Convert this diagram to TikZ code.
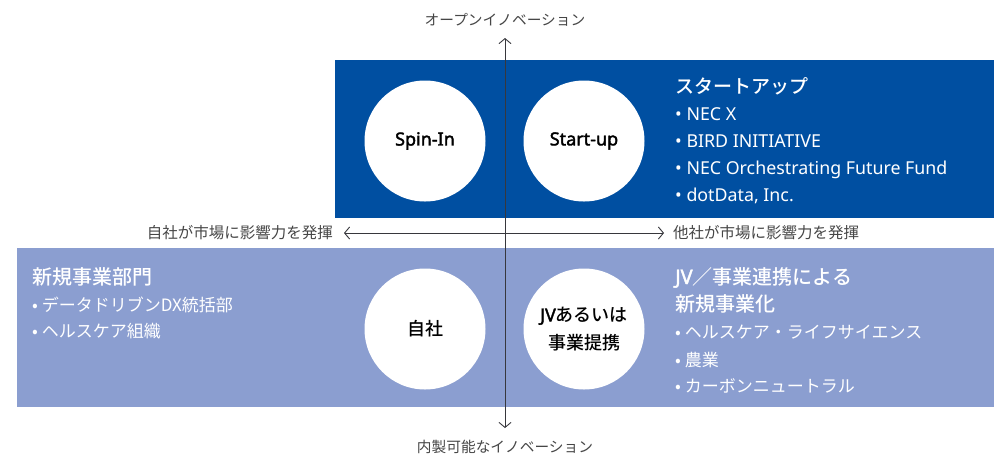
\documentclass[tikz,border=0pt]{standalone}
\usepackage{fontspec}
\setmainfont{Noto Sans}
\newfontfamily\jp{Noto Sans CJK JP}
\newfontfamily\jpm{Noto Sans CJK JP Medium}
\newfontfamily\lsm[FakeBold=2]{Noto Sans}
\usetikzlibrary{arrows.meta}
\definecolor{darkblue}{RGB}{0,79,161}
\definecolor{lightblue}{RGB}{139,158,208}
\definecolor{axisgray}{RGB}{55,55,60}
\definecolor{labelgray}{RGB}{70,70,70}
\tikzset{
  circ/.style={circle,fill=white,minimum size=121pt,inner sep=0pt,align=center,
    font=\fontsize{18}{28}\selectfont,text=black},
  axisline/.style={draw=axisgray,line width=0.9pt,
    {Straight Barb[length=5pt,width=12pt,line width=0.9pt]}-{Straight Barb[length=5pt,width=12pt,line width=0.9pt]}},
  axlabel/.style={inner sep=0pt,text=labelgray,font=\jp\fontsize{14.7}{16}\selectfont},
  sidelabel/.style={axlabel,font=\jp\fontsize{15.5}{16}\selectfont},
  ttl/.style={anchor=base west,inner sep=0pt,text=white,font=\jpm\fontsize{20}{24}\selectfont},
  itm/.style={anchor=base west,inner sep=0pt,text=white,font=\fontsize{17.8}{20}\selectfont},
  jitm/.style={itm,font=\jp\fontsize{17}{20}\selectfont},
}
\begin{document}
\begin{tikzpicture}[x=1pt,y=-1pt]
\useasboundingbox (0,0) rectangle (994,459);
% panels
\fill[darkblue] (335,60) rectangle (994,218);
\fill[lightblue] (17,248) rectangle (994,407);
% circles
\node[circ] (spin) at (425,141) {\lsm Spin-In};
\node[circ] (start) at (584,141) {\lsm Start-up};
\node[circ] (own) at (425,329) {\jpm 自社};
\node[circ] (jv) at (584,329) {{\lsm JV}{\jpm あるいは}\\{\jpm 事業提携}};
% axes
\coordinate (vtop) at (505,38);
\coordinate (vbot) at (505,428);
\coordinate (hleft) at (344,233);
\coordinate (hright) at (664,233);
\draw[axisline] (vbot) -- (vtop);
\draw[axisline] (hleft) -- (hright);
% axis labels
\node[axlabel] (toplab) at (505,20) {オープンイノベーション};
\node[axlabel] (botlab) at (505,447) {内製可能なイノベーション};
\node[sidelabel,anchor=east] (leftlab) at (333,233) {自社が市場に影響力を発揮};
\node[sidelabel,anchor=west] (rightlab) at (673,233) {他社が市場に影響力を発揮};
% top-right text
\node[ttl,font=\jpm\fontsize{19}{24}\selectfont] (t1) at (675,93) {スタートアップ};
\node[itm] (t2) at (675,120) {• NEC X};
\node[itm] (t3) at (675,147) {• BIRD INITIATIVE};
\node[itm] (t4) at (675,174) {• NEC Orchestrating Future Fund};
\node[itm] (t5) at (675,201.5) {• dotData, Inc.};
% bottom-left text
\node[ttl] (l1) at (32,284) {新規事業部門};
\node[jitm] (l2) at (32,311.5) {• データドリブンDX統括部};
\node[jitm] (l3) at (32,337) {• ヘルスケア組織};
% bottom-right text
\node[ttl] (r1) at (675,284) {{\lsm JV}／事業連携による};
\node[ttl] (r2) at (675,311.5) {新規事業化};
\node[jitm] (r3) at (675,338.5) {• ヘルスケア・ライフサイエンス};
\node[jitm] (r4) at (675,366) {• 農業};
\node[jitm] (r5) at (675,392) {• カーボンニュートラル};
\end{tikzpicture}
\end{document}
